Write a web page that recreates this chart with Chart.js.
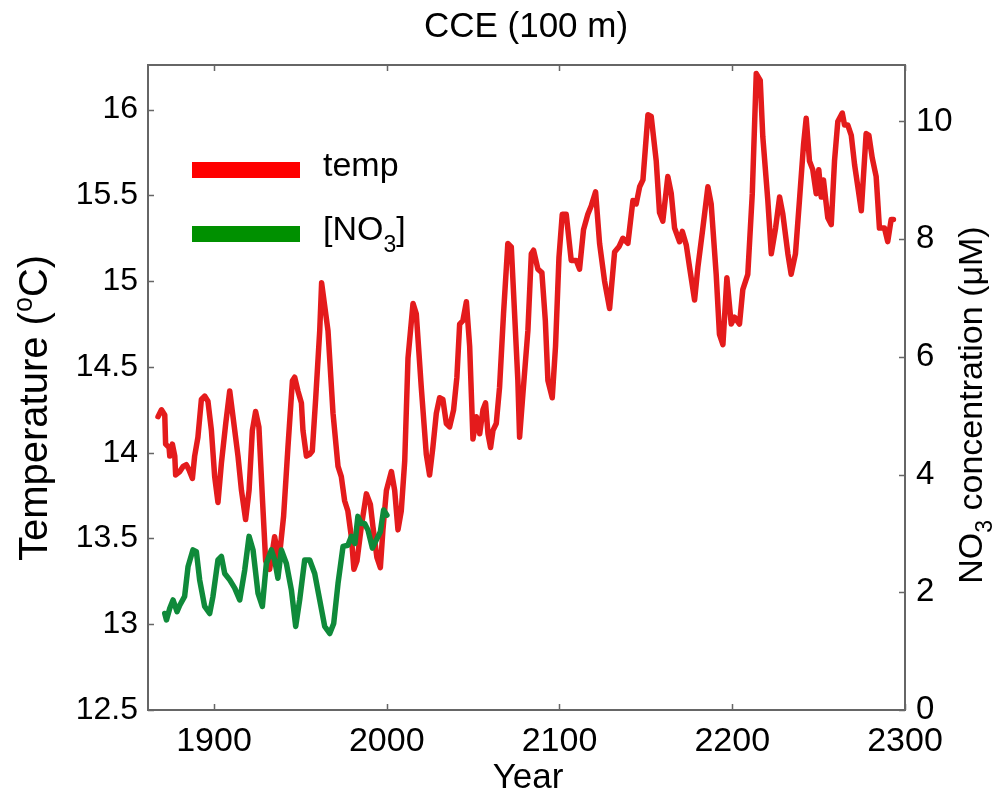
<!DOCTYPE html>
<html>
<head>
<meta charset="utf-8">
<script src="https://cdn.jsdelivr.net/npm/chart.js@4/dist/chart.umd.min.js"></script>
<style>
html,body{margin:0;padding:0;background:#fff;}
#wrap{width:999px;height:794px;position:relative;}
</style>
</head>
<body>
<div id="wrap"><canvas id="c" width="999" height="794"></canvas></div>
<script>
// ---- data ----
const tempYears = [1867.6,1869.6,1871.5,1872.0,1874.0,1874.4,1875.9,1877.3,1877.8,1880.2,1882.1,1884.0,1885.5,1887.5,1888.8,1890.7,1892.7,1894.6,1896.5,1898.5,1900.4,1902.3,1904.3,1906.8,1909.1,1911.0,1913.9,1915.9,1918.3,1920.3,1922.2,1924.1,1926.0,1928.0,1929.9,1932.2,1935.1,1937.6,1940.3,1942.8,1945.4,1946.7,1948.6,1950.6,1951.5,1953.5,1955.4,1956.9,1958.9,1961.2,1962.3,1966.0,1968.9,1971.8,1973.7,1975.6,1977.5,1979.5,1981.0,1982.8,1985.3,1988.2,1990.5,1992.0,1994.3,1996.3,1997.8,1999.8,2002.7,2004.6,2006.5,2008.4,2010.4,2012.3,2015.2,2017.1,2020.0,2022.9,2024.8,2026.7,2028.7,2030.6,2032.5,2034.5,2036.4,2038.7,2040.6,2042.2,2044.1,2046.1,2048.0,2049.9,2051.9,2053.8,2055.7,2057.2,2058.6,2060.1,2061.5,2063.4,2065.3,2067.6,2070.1,2072.1,2074.0,2075.9,2076.9,2078.8,2081.7,2083.7,2085.0,2087.5,2089.8,2091.8,2093.3,2095.8,2097.7,2099.7,2101.6,2103.9,2106.8,2109.7,2111.6,2113.9,2116.4,2118.4,2120.9,2123.2,2126.1,2129.0,2131.9,2134.4,2136.7,2139.6,2142.5,2144.4,2146.4,2148.3,2151.2,2153.1,2156.0,2157.9,2159.8,2162.7,2164.7,2166.6,2169.5,2171.1,2173.4,2175.3,2178.2,2180.1,2183.0,2185.9,2187.8,2190.7,2192.6,2194.6,2196.9,2199.4,2201.3,2204.2,2206.1,2209.0,2211.6,2213.9,2216.2,2217.7,2220.6,2222.6,2225.1,2227.4,2229.3,2232.2,2234.1,2236.6,2238.9,2241.3,2242.8,2244.7,2246.6,2248.6,2250.1,2251.5,2252.8,2255.3,2257.3,2259.2,2261.1,2263.7,2265.0,2266.9,2268.9,2270.8,2272.7,2274.7,2277.5,2279.1,2281.0,2283.3,2285.2,2288.1,2290.0,2292.0,2293.3];
const tempValues = [14.21,14.25,14.22,14.05,14.03,13.98,14.05,13.98,13.87,13.89,13.92,13.93,13.90,13.85,13.98,14.09,14.31,14.33,14.30,14.13,13.86,13.71,13.94,14.17,14.36,14.21,13.98,13.78,13.61,13.78,14.13,14.24,14.15,13.74,13.37,13.32,13.51,13.37,13.63,14.03,14.42,14.44,14.36,14.29,14.13,13.98,13.99,14.01,14.32,14.71,14.99,14.71,14.23,13.92,13.86,13.72,13.66,13.51,13.32,13.37,13.57,13.76,13.70,13.57,13.39,13.33,13.55,13.78,13.89,13.78,13.55,13.66,13.95,14.55,14.87,14.81,14.38,13.99,13.87,14.03,14.23,14.32,14.31,14.17,14.15,14.25,14.44,14.75,14.77,14.88,14.62,14.08,14.21,14.11,14.25,14.29,14.11,14.03,14.13,14.17,14.38,14.81,15.22,15.20,14.81,14.42,14.09,14.34,14.71,15.16,15.18,15.07,15.05,14.77,14.42,14.32,14.62,15.14,15.39,15.39,15.12,15.12,15.07,15.30,15.39,15.44,15.52,15.22,15.00,14.84,15.17,15.20,15.25,15.22,15.47,15.45,15.55,15.59,15.97,15.96,15.70,15.40,15.35,15.61,15.51,15.31,15.23,15.29,15.21,15.08,14.89,15.08,15.31,15.55,15.45,15.04,14.69,14.63,15.02,14.75,14.79,14.75,14.95,15.04,15.51,16.21,16.17,15.84,15.47,15.16,15.31,15.49,15.39,15.16,15.04,15.16,15.47,15.80,15.95,15.70,15.65,15.51,15.65,15.49,15.59,15.37,15.33,15.70,15.93,15.98,15.91,15.91,15.85,15.68,15.55,15.41,15.86,15.85,15.72,15.61,15.31,15.31,15.23,15.36,15.36];
const no3Years = [1871.5,1872.5,1874.4,1876.3,1878.6,1880.2,1883.0,1885.0,1887.8,1889.8,1891.7,1894.6,1897.5,1899.4,1902.3,1904.3,1906.2,1909.1,1912.0,1914.9,1917.8,1920.3,1922.6,1925.5,1928.0,1930.3,1933.2,1935.1,1937.0,1939.0,1941.9,1944.8,1947.3,1949.6,1952.5,1955.4,1958.3,1961.2,1964.1,1967.0,1969.3,1971.8,1974.7,1977.5,1979.5,1981.6,1983.3,1985.3,1987.2,1989.1,1991.7,1994.0,1996.3,1998.2,2000.1];
const no3Values = [1.64,1.53,1.73,1.87,1.67,1.78,1.93,2.44,2.72,2.69,2.21,1.76,1.64,1.93,2.55,2.61,2.32,2.21,2.07,1.87,2.38,2.95,2.72,1.98,1.76,2.49,2.72,2.55,2.24,2.72,2.49,2.04,1.42,1.87,2.55,2.55,2.32,1.87,1.42,1.30,1.47,2.15,2.78,2.80,2.95,2.83,3.29,3.17,3.17,3.06,2.75,2.89,3.03,3.40,3.31];
const yearTicks = [1900,2000,2100,2200,2300];
const tempTicks = [12.5,13,13.5,14,14.5,15,15.5,16];
const no3Ticks = [0,2,4,6,8,10];

const FONT = "'Liberation Sans', Arial, Helvetica, sans-serif";
const RED = '#e41b1c';
const GREEN = '#0f8a3a';
const AXIS = '#666666';

function sizeAxis(w, h) {
  return function (s) { if (w !== null) s.width = w; if (h !== null) s.height = h; };
}

const decor = {
  id: 'decor',
  afterDraw(chart) {
    const ctx = chart.ctx;
    const a = chart.chartArea;
    const sx = chart.scales.x, sy = chart.scales.y, sy1 = chart.scales.y1;
    ctx.save();
    // frame
    ctx.strokeStyle = AXIS;
    ctx.lineWidth = 2;
    ctx.strokeRect(a.left, a.top, a.right - a.left, a.bottom - a.top);
    ctx.lineWidth = 1.5;
    const tl = 6;
    ctx.beginPath();
    yearTicks.forEach(v => {
      const px = Math.round(sx.getPixelForValue(v)) + 0.5;
      ctx.moveTo(px, a.bottom); ctx.lineTo(px, a.bottom - tl);
      ctx.moveTo(px, a.top); ctx.lineTo(px, a.top + tl);
    });
    tempTicks.forEach(v => {
      const py = Math.round(sy.getPixelForValue(v)) + 0.5;
      ctx.moveTo(a.left, py); ctx.lineTo(a.left + tl, py);
    });
    no3Ticks.forEach(v => {
      const py = Math.round(sy1.getPixelForValue(v)) + 0.5;
      ctx.moveTo(a.right, py); ctx.lineTo(a.right - tl, py);
    });
    ctx.stroke();

    ctx.fillStyle = '#000';
    // title
    ctx.textAlign = 'center';
    ctx.textBaseline = 'alphabetic';
    ctx.font = '35px ' + FONT;
    ctx.fillText('CCE (100 m)', 526, 37);
    // x title
    ctx.fillText('Year', 528, 788);

    function richText(parts, cx, cy, rot, size) {
      ctx.save();
      ctx.translate(cx, cy);
      ctx.rotate(rot);
      ctx.textAlign = 'left';
      ctx.textBaseline = 'alphabetic';
      let total = 0;
      parts.forEach(p => {
        ctx.font = (p.s ? Math.round(size * 0.68) : size) + 'px ' + FONT;
        total += ctx.measureText(p.t).width;
      });
      let x = -total / 2;
      parts.forEach(p => {
        const fs = p.s ? Math.round(size * 0.68) : size;
        ctx.font = fs + 'px ' + FONT;
        const dy = p.s === 'sup' ? -size * 0.38 : (p.s === 'sub' ? size * 0.3 : 0);
        ctx.fillText(p.t, x, dy);
        x += ctx.measureText(p.t).width;
      });
      ctx.restore();
    }
    richText([{t:'Temperature ('},{t:'o',s:'sup'},{t:'C)'}], 47, 408, -Math.PI/2, 40);
    richText([{t:'NO'},{t:'3',s:'sub'},{t:' concentration (\u03bcM)'}], 982, 405, -Math.PI/2, 34);

    // legend
    ctx.fillStyle = '#ff0000';
    ctx.fillRect(192, 162, 108, 16);
    ctx.fillStyle = '#009000';
    ctx.fillRect(192, 226, 108, 16);
    ctx.fillStyle = '#000';
    ctx.font = '34px ' + FONT;
    ctx.textAlign = 'left';
    ctx.fillText('temp', 323, 176);
    let x0 = 323;
    ctx.fillText('[NO', x0, 240);
    x0 += ctx.measureText('[NO').width;
    ctx.font = '23px ' + FONT;
    ctx.fillText('3', x0, 252);
    x0 += ctx.measureText('3').width;
    ctx.font = '34px ' + FONT;
    ctx.fillText(']', x0, 240);
    ctx.restore();
  }
};

const tempData = tempYears.map((x, i) => ({x: x, y: tempValues[i]}));
const no3Data = no3Years.map((x, i) => ({x: x, y: no3Values[i]}));

new Chart(document.getElementById('c'), {
  type: 'line',
  data: {
    datasets: [
      { label: '[NO3]', data: no3Data, yAxisID: 'y1', borderColor: GREEN, borderWidth: 5.5,
        pointRadius: 0, tension: 0, fill: false, borderJoinStyle: 'round', borderCapStyle: 'round' },
      { label: 'temp', data: tempData, yAxisID: 'y', borderColor: RED, borderWidth: 5.5,
        pointRadius: 0, tension: 0, fill: false, borderJoinStyle: 'round', borderCapStyle: 'round' }
    ]
  },
  options: {
    responsive: false,
    animation: false,
    events: [],
    layout: { padding: { top: 65, left: 0, right: 0, bottom: 0 } },
    plugins: { legend: { display: false }, title: { display: false }, tooltip: { enabled: false } },
    scales: {
      x: {
        type: 'linear', position: 'bottom', min: 1861.8, max: 2300,
        grid: { display: false, drawTicks: false }, border: { display: false },
        afterBuildTicks: s => { s.ticks = yearTicks.map(v => ({value: v})); },
        afterFit: sizeAxis(null, 84),
        ticks: { color: '#000', font: { family: FONT, size: 34 }, padding: 11, maxRotation: 0, autoSkip: false,
          callback: v => String(v) }
      },
      y: {
        type: 'linear', position: 'left', min: 12.5, max: 16.26,
        grid: { display: false, drawTicks: false }, border: { display: false },
        afterBuildTicks: s => { s.ticks = tempTicks.map(v => ({value: v})); },
        afterFit: sizeAxis(148, null),
        ticks: { color: '#000', font: { family: FONT, size: 32 }, padding: 10, autoSkip: false,
          callback: v => String(v) }
      },
      y1: {
        type: 'linear', position: 'right', min: 0, max: 10.96,
        grid: { display: false, drawTicks: false }, border: { display: false },
        afterBuildTicks: s => { s.ticks = no3Ticks.map(v => ({value: v})); },
        afterFit: sizeAxis(94, null),
        ticks: { color: '#000', font: { family: FONT, size: 33 }, padding: 11, autoSkip: false,
          callback: v => String(v) }
      }
    }
  },
  plugins: [decor]
});
</script>
</body>
</html>
